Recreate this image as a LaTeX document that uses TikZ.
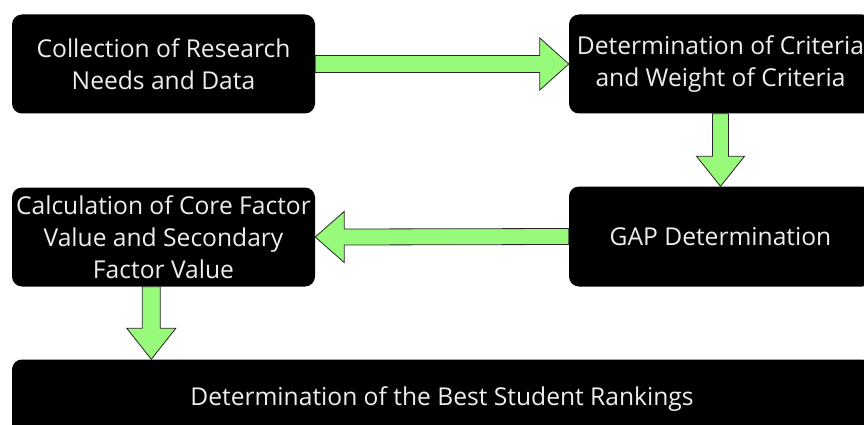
\documentclass[tikz,border=0pt]{standalone}
\usepackage{fontspec}
\setmainfont{Open Sans}
\usetikzlibrary{calc}
\definecolor{arrowgreen}{RGB}{152,250,122}
\definecolor{boxtext}{RGB}{238,238,238}
\begin{document}
\begin{tikzpicture}[x=1pt,y=-1pt,
  stepbox/.style={fill=black, rounded corners=10pt, text=boxtext, align=center,
    font=\fontsize{24.6}{32}\selectfont, inner sep=0pt},
  blockarrow/.style={fill=arrowgreen, draw=black!85, line width=0.8pt, line join=miter}]
\useasboundingbox (0,0) rectangle (864,425);
\node[stepbox, minimum width=303pt, minimum height=99pt] (b1) at (163.5,64)
  {Collection of Research\\Needs and Data};
\node[stepbox, minimum width=303pt, minimum height=99pt] (b2) at (720.5,64)
  {Determination of Criteria\\and Weight of Criteria};
\node[stepbox, minimum width=303pt, minimum height=100pt] (b3) at (720.5,236.5)
  {GAP Determination};
\node[stepbox, minimum width=303pt, minimum height=99pt] (b4) at (163.5,237)
  {Calculation of Core Factor\\Value and Secondary\\Factor Value};
\node[stepbox, minimum width=860pt, minimum height=80pt] (b5) at (442,399.5)
  {Determination of the Best Student Rankings};
% arrow 1: b1 -> b2
\draw[blockarrow] ($(b1.east)+(0,-8.5)$) -- ($(b2.west)+(-29,-8.5)$) -- ($(b2.west)+(-29,-26)$)
  -- (b2.west) -- ($(b2.west)+(-29,26)$) -- ($(b2.west)+(-29,8.5)$) -- ($(b1.east)+(0,8.5)$) -- cycle;
% arrow 2: b2 -> b3
\draw[blockarrow] ($(b2.south)+(-8,0)$) -- ($(b3.north)+(-8,-30)$) -- ($(b3.north)+(-24,-30)$)
  -- (b3.north) -- ($(b3.north)+(24,-30)$) -- ($(b3.north)+(8,-30)$) -- ($(b2.south)+(8,0)$) -- cycle;
% arrow 3: b3 -> b4
\draw[blockarrow] ($(b3.west)+(0,-8)$) -- ($(b4.east)+(29,-8)$) -- ($(b4.east)+(29,-25.5)$)
  -- (b4.east) -- ($(b4.east)+(29,25.5)$) -- ($(b4.east)+(29,8)$) -- ($(b3.west)+(0,8)$) -- cycle;
% arrow 4: b4 -> b5
\coordinate (a4s) at ($(b4.south west)+(139.5,0)$);
\coordinate (a4e) at (a4s |- b5.north);
\draw[blockarrow] ($(a4s)+(-9,0)$) -- ($(a4e)+(-9,-31)$) -- ($(a4e)+(-24.5,-31)$)
  -- (a4e) -- ($(a4e)+(24.5,-31)$) -- ($(a4e)+(9,-31)$) -- ($(a4s)+(9,0)$) -- cycle;
\end{tikzpicture}
\end{document}
